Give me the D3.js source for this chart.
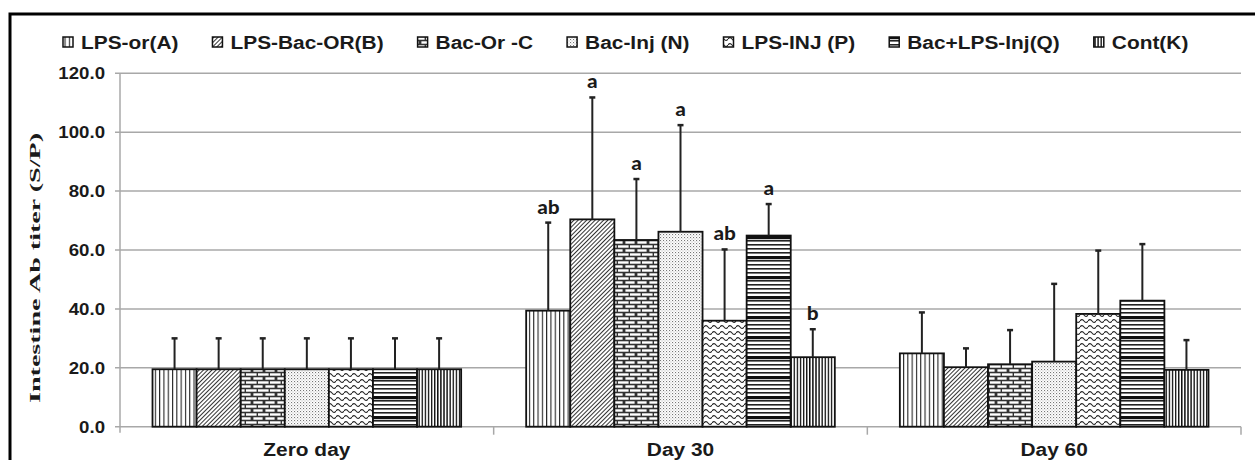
<!DOCTYPE html>
<html><head><meta charset="utf-8">
<script src="https://cdn.jsdelivr.net/npm/d3@7/dist/d3.min.js"></script>
<style>body{margin:0;background:#fff}svg{display:block}</style>
</head><body>
<svg id="c" width="1255" height="460"></svg>
<script>
const categories = ["Zero day", "Day 30", "Day 60"];
const seriesNames = ["LPS-or(A)", "LPS-Bac-OR(B)", "Bac-Or -C", "Bac-Inj (N)", "LPS-INJ (P)", "Bac+LPS-Inj(Q)", "Cont(K)"];
const zeroDayMean = [19.5, 19.5, 19.5, 19.5, 19.5, 19.5, 19.5];
const zeroDaySD   = [10.5, 10.5, 10.5, 10.5, 10.5, 10.5, 10.5];
const day30Mean = [39.4, 70.4, 63.4, 66.2, 36.0, 64.9, 23.6];
const day30SD   = [29.9, 41.4, 20.7, 36.2, 24.2, 10.7, 9.5];
const day60Mean = [24.9, 20.2, 21.2, 22.1, 38.3, 42.8, 19.3];
const day60SD   = [13.9, 6.4, 11.6, 26.4, 21.5, 19.2, 10.1];
const day30Letters = ["ab", "a", "a", "a", "ab", "a", "b"];
const yTicks = [0, 20, 40, 60, 80, 100, 120];
const yTitle = "Intestine Ab titer (S/P)";

const means = [zeroDayMean, day30Mean, day60Mean];
const sds = [zeroDaySD, day30SD, day60SD];
const letters = [null, day30Letters, null];

const svg = d3.select("#c");
const SX = 1.13; // horizontal stretch of text in the reference
const sans = "'Liberation Sans', Arial, sans-serif";

// patterns
const defs = svg.append("defs");
const pid = ["pA","pB","pC","pD","pP","pQ","pK"];
function pat(id, w, h) {
  const p = defs.append("pattern").attr("id", id).attr("patternUnits", "userSpaceOnUse")
    .attr("width", w).attr("height", h);
  p.append("rect").attr("width", w).attr("height", h).attr("fill", "#fff");
  return p;
}
let p;
p = pat("pA", 4.3, 10); p.append("rect").attr("x", 0).attr("width", 1.1).attr("height", 10).attr("fill", "#222");
p = pat("pB", 3.0, 3.0); p.attr("patternTransform", "rotate(45)");
p.append("rect").attr("x", 0).attr("width", 1.0).attr("height", 3.0).attr("fill", "#333");
p = pat("pC", 12, 8);
p.append("rect").attr("width", 12).attr("height", 8).attr("fill", "#333");
p.append("rect").attr("x", 1.4).attr("y", 1.3).attr("width", 9.2).attr("height", 2.4).attr("fill", "#fff");
p.append("rect").attr("x", 0).attr("y", 5.3).attr("width", 4.6).attr("height", 2.4).attr("fill", "#fff");
p.append("rect").attr("x", 6.0).attr("y", 5.3).attr("width", 6).attr("height", 2.4).attr("fill", "#fff");
p = pat("pD", 3, 3);
p.append("rect").attr("width", 1.1).attr("height", 1.1).attr("fill", "#777");
p.append("rect").attr("x", 1.5).attr("y", 1.5).attr("width", 1.0).attr("height", 1.0).attr("fill", "#aaa");
p = pat("pP", 8, 6);
p.append("path").attr("d", "M0,3 Q2,0.2 4,3 T8,3").attr("fill", "none").attr("stroke", "#222").attr("stroke-width", 1.1);
p = pat("pQ", 10, 20);
[0, 4, 8, 12].forEach(y => p.append("rect").attr("y", y).attr("width", 10).attr("height", 1.6).attr("fill", "#222"));
p.append("rect").attr("y", 16).attr("width", 10).attr("height", 3.2).attr("fill", "#111");
p = pat("pK", 3.1, 10); p.append("rect").attr("x", 0).attr("width", 1.4).attr("height", 10).attr("fill", "#111");

// frame
svg.append("rect").attr("x", 10).attr("y", 14).attr("width", 1260).attr("height", 470)
  .attr("fill", "none").attr("stroke", "#000").attr("stroke-width", 3);

// scales
const y = d3.scaleLinear().domain([0, 120]).range([426.7, 73.3]);
const x0 = d3.scaleBand().domain(categories).range([120, 1241]).padding(0);
const groupFrac = 0.826;
const x1 = d3.scaleBand().domain(seriesNames).range([0, x0.bandwidth() * groupFrac]).padding(0);
const groupOff = x0.bandwidth() * (1 - groupFrac) / 2;

// grid lines
svg.append("g").selectAll("line").data(yTicks).join("line")
  .attr("x1", 115).attr("x2", 1241).attr("y1", d => y(d)).attr("y2", d => y(d))
  .attr("stroke", "#a8a8a8").attr("stroke-width", 1.5);
// y axis line
svg.append("line").attr("x1", 120).attr("x2", 120).attr("y1", y(120)).attr("y2", y(0) + 6)
  .attr("stroke", "#a8a8a8").attr("stroke-width", 1.5);
// x category boundary ticks
svg.append("g").selectAll("line").data(categories).join("line")
  .attr("x1", d => x0(d) + x0.bandwidth()).attr("x2", d => x0(d) + x0.bandwidth())
  .attr("y1", y(0)).attr("y2", y(0) + 8).attr("stroke", "#a8a8a8").attr("stroke-width", 1.5);

// y tick labels
svg.append("g").selectAll("g").data(yTicks).join("g")
  .attr("transform", d => `translate(105,${y(d) + 6}) scale(${SX},1)`)
  .append("text").attr("text-anchor", "end").attr("font-family", sans).attr("font-weight", "bold")
  .attr("font-size", 16.5).attr("fill", "#1a1a1a").text(d => d3.format(".1f")(d));

// y title
svg.append("text").attr("transform", `translate(40,268) rotate(-90)`).attr("text-anchor", "middle")
  .attr("font-family", "'Liberation Serif','Times New Roman',serif").attr("font-weight", "bold")
  .attr("font-size", 15).attr("fill", "#1a1a1a").attr("textLength", 270).attr("lengthAdjust", "spacingAndGlyphs")
  .text(yTitle);

// bars
const flat = [];
categories.forEach((c, ci) => seriesNames.forEach((s, si) => flat.push({c, ci, s, si, m: means[ci][si], sd: sds[ci][si], l: letters[ci] ? letters[ci][si] : null})));
const bx = d => x0(d.c) + groupOff + x1(d.s);
svg.append("g").selectAll("rect").data(flat).join("rect")
  .attr("x", bx).attr("width", x1.bandwidth()).attr("y", d => y(d.m)).attr("height", d => y(0) - y(d.m))
  .attr("fill", d => `url(#${pid[d.si]})`).attr("stroke", "#111").attr("stroke-width", 1.8);
// error bars
const eg = svg.append("g");
eg.selectAll("line.v").data(flat).join("line").attr("class", "v")
  .attr("x1", d => bx(d) + x1.bandwidth() / 2).attr("x2", d => bx(d) + x1.bandwidth() / 2)
  .attr("y1", d => y(d.m)).attr("y2", d => y(d.m + d.sd)).attr("stroke", "#222").attr("stroke-width", 2);
eg.selectAll("line.c").data(flat).join("line").attr("class", "c")
  .attr("x1", d => bx(d) + x1.bandwidth() / 2 - 3).attr("x2", d => bx(d) + x1.bandwidth() / 2 + 3)
  .attr("y1", d => y(d.m + d.sd)).attr("y2", d => y(d.m + d.sd)).attr("stroke", "#222").attr("stroke-width", 2.5);
// letters
svg.append("g").selectAll("g").data(flat.filter(d => d.l)).join("g")
  .attr("transform", d => `translate(${bx(d) + x1.bandwidth() / 2},${y(d.m + d.sd) - 9}) scale(1.05,1)`)
  .append("text").attr("text-anchor", "middle").attr("font-family", "Carlito, 'Open Sans', " + sans).attr("font-weight", "bold")
  .attr("font-size", 21).attr("fill", "#1a1a1a").text(d => d.l);

// category labels
svg.append("g").selectAll("g").data(categories).join("g")
  .attr("transform", d => `translate(${x0(d) + x0.bandwidth() / 2},456) scale(${SX},1)`)
  .append("text").attr("text-anchor", "middle").attr("font-family", sans).attr("font-weight", "bold")
  .attr("font-size", 18.5).attr("fill", "#1a1a1a").text(d => d);

// legend
const lg = svg.append("g");
let lx = 63;
seriesNames.forEach((s, i) => {
  lg.append("rect").attr("x", lx).attr("y", 37).attr("width", 10).attr("height", 10)
    .attr("fill", `url(#${pid[i]})`).attr("stroke", "#111").attr("stroke-width", 1.5);
  const g = lg.append("g").attr("transform", `translate(${lx + 18},49) scale(${SX},1)`);
  const t = g.append("text").attr("font-family", sans).attr("font-weight", "bold")
    .attr("font-size", 18.5).attr("fill", "#1a1a1a").text(s);
  const w = t.node().getComputedTextLength() * SX;
  lx += 18 + w + 34;
});
</script>
</body></html>
